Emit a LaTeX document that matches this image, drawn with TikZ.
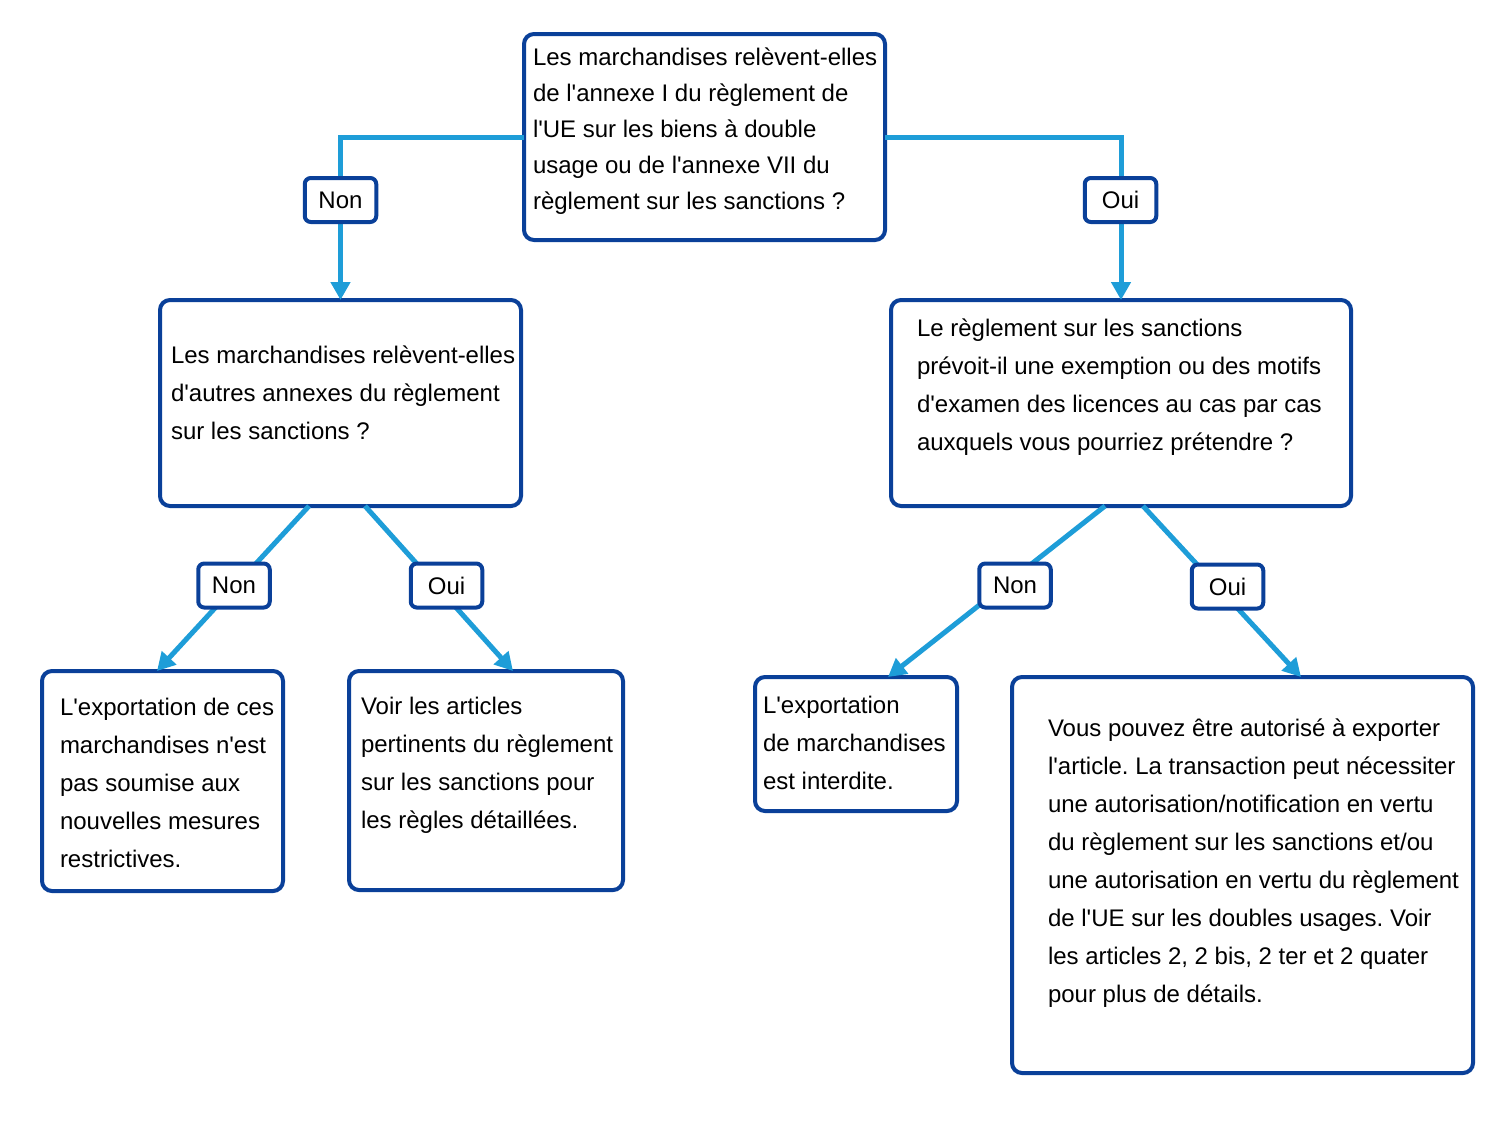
\documentclass[tikz,border=0pt]{standalone}
\usepackage{fontspec}
\setmainfont{Liberation Sans}[Ligatures=TeXOff]
\usetikzlibrary{arrows.meta}
\definecolor{boxblue}{RGB}{10,64,153}
\definecolor{linkblue}{RGB}{30,157,216}
\frenchspacing
\begin{document}
\begin{tikzpicture}[x=1pt,y=-1pt,
  box/.style={draw=boxblue,line width=4pt,rounded corners=10pt,inner sep=0pt,outer sep=0pt,fill=white},
  lbl/.style={draw=boxblue,line width=4pt,rounded corners=6pt,inner sep=0pt,outer sep=0pt,fill=white,
    minimum width=71.5pt,minimum height=44pt,font=\fontsize{24}{28}\selectfont},
  txt/.style={anchor=north west,align=left,inner sep=0pt,outer sep=0pt},
  tA/.style={txt,font=\fontsize{24}{36}\selectfont},
  tB/.style={txt,font=\fontsize{24}{38}\selectfont},
  link/.style={draw=linkblue,line width=5pt},
  arr/.style={link,-{Triangle[width=19pt,length=18pt]}}]
\useasboundingbox (0,0) rectangle (1511,1120);
% boxes
\node[box,minimum width=361pt,minimum height=206pt] (b0) at (704.5,137) {};
\node[box,minimum width=361pt,minimum height=206pt] (b1) at (340.5,403) {};
\node[box,minimum width=460pt,minimum height=206pt] (b2) at (1121,403) {};
\node[box,minimum width=241pt,minimum height=220pt] (b3) at (162.5,781) {};
\node[box,minimum width=274pt,minimum height=219pt] (b4) at (486,780.5) {};
\node[box,minimum width=202pt,minimum height=134pt] (b5) at (856,744) {};
\node[box,minimum width=461pt,minimum height=396pt] (b6) at (1242.5,875) {};
% texts
\node[tA] (t0) at (533,39.8) {\strut Les marchandises relèvent-elles\\de l'annexe I du règlement de\\l'UE sur les biens à double\\usage ou de l'annexe VII du\\règlement sur les sanctions ?};
\node[tB] (t1) at (171,336.4) {\strut Les marchandises relèvent-elles\\d'autres annexes du règlement\\sur les sanctions ?};
\node[tB] (t2) at (917,309.4) {\strut Le règlement sur les sanctions\\prévoit-il une exemption ou des motifs\\d'examen des licences au cas par cas\\auxquels vous pourriez prétendre ?};
\node[tB] (t3) at (60,688.4) {\strut L'exportation de ces\\marchandises n'est\\pas soumise aux\\nouvelles mesures\\restrictives.};
\node[tB] (t4) at (361,687.4) {\strut Voir les articles\\pertinents du règlement\\sur les sanctions pour\\les règles détaillées.};
\node[tB] (t5) at (763,686.4) {\strut L'exportation\\de marchandises\\est interdite.};
\node[tB] (t6) at (1048,709.4) {\strut Vous pouvez être autorisé à exporter\\l'article. La transaction peut nécessiter\\une autorisation/notification en vertu\\du règlement sur les sanctions et/ou\\une autorisation en vertu du règlement\\de l'UE sur les doubles usages. Voir\\les articles 2, 2 bis, 2 ter et 2 quater\\pour plus de détails.};
% connectors
\draw[arr] (b0.west) -| (b1.north);
\draw[arr] (b0.east) -| (b2.north);
\draw[arr] ([xshift=-31.5pt]b1.south) -- ([xshift=-5.5pt]b3.north);
\draw[arr] ([xshift=24.5pt]b1.south) -- ([xshift=27pt]b4.north);
\draw[arr] ([xshift=-16pt]b2.south) -- ([xshift=32pt]b5.north);
\draw[arr] ([xshift=22pt]b2.south) -- ([xshift=58.5pt]b6.north);
% labels
\node[lbl] (n1) at (340.5,200) {Non};
\node[lbl] (n2) at (1120.5,200) {Oui};
\node[lbl] (n3) at (234,585.5) {Non};
\node[lbl] (n4) at (446.5,585.5) {Oui};
\node[lbl] (n5) at (1015,585.5) {Non};
\node[lbl] (n6) at (1227.5,586.5) {Oui};
\end{tikzpicture}
\end{document}
